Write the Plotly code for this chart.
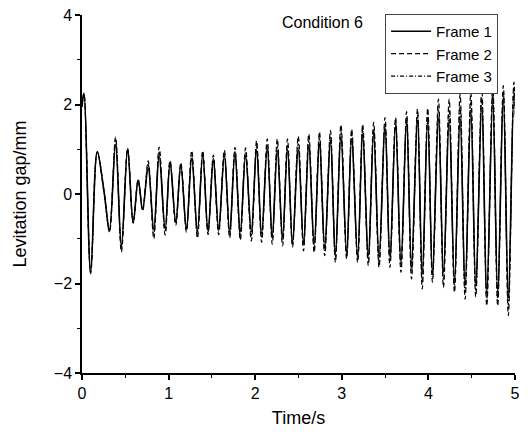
import plotly.graph_objects as go

# Extremum times (s) (peaks and troughs of the oscillation)
time_s = [0.000, 0.023, 0.100, 0.176, 0.255, 0.317, 0.388, 0.455, 0.527, 0.591,
          0.649, 0.700, 0.764, 0.829, 0.891, 0.960, 1.017, 1.083, 1.141, 1.206,
          1.267, 1.333, 1.394, 1.455, 1.517, 1.578, 1.644, 1.705, 1.766, 1.828,
          1.889, 1.955, 2.016, 2.074, 2.139, 2.197, 2.255, 2.316, 2.373, 2.431,
          2.497, 2.558, 2.619, 2.681, 2.742, 2.803, 2.869, 2.926, 2.990, 3.056,
          3.114, 3.183, 3.241, 3.306, 3.368, 3.430, 3.499, 3.556, 3.621, 3.683,
          3.748, 3.805, 3.874, 3.929, 3.992, 4.047, 4.116, 4.174, 4.240, 4.301,
          4.366, 4.424, 4.490, 4.547, 4.616, 4.674, 4.743, 4.800, 4.865, 4.923,
          4.988, 5.050]

frame1 = [1.95, 2.25, -1.75, 0.94, 0.05, -0.80, 1.10, -1.16, 1.00, -0.63,
          0.31, -0.34, 0.58, -0.78, 0.84, -0.77, 0.69, -0.62, 0.63, -0.77,
          0.80, -0.82, 0.87, -0.82, 0.74, -0.77, 0.85, -0.84, 0.89, -0.84,
          0.86, -0.84, 0.98, -0.89, 1.02, -0.93, 0.97, -0.95, 1.00, -1.08,
          1.00, -1.08, 1.08, -1.12, 1.12, -1.19, 1.19, -1.34, 1.28, -1.30,
          1.23, -1.38, 1.34, -1.38, 1.34, -1.41, 1.49, -1.41, 1.53, -1.53,
          1.60, -1.56, 1.64, -1.75, 1.64, -1.75, 1.68, -1.75, 1.68, -1.94,
          1.71, -2.05, 1.86, -2.03, 1.97, -2.20, 2.08, -2.20, 2.16, -2.27,
          2.25, -2.30]

frame2 = [1.95, 2.25, -1.78, 0.94, 0.05, -0.85, 1.27, -1.30, 1.02, -0.65,
          0.32, -0.38, 0.74, -1.00, 1.05, -0.92, 0.75, -0.70, 0.70, -0.85,
          0.97, -0.99, 0.97, -0.91, 0.87, -0.91, 0.98, -0.98, 1.04, -1.03,
          1.03, -1.05, 1.19, -1.08, 1.23, -1.12, 1.23, -1.16, 1.23, -1.19,
          1.29, -1.27, 1.34, -1.31, 1.39, -1.38, 1.42, -1.53, 1.55, -1.45,
          1.45, -1.53, 1.56, -1.60, 1.60, -1.64, 1.71, -1.64, 1.71, -1.75,
          1.84, -1.90, 1.90, -2.12, 1.92, -1.97, 2.12, -2.09, 2.12, -2.20,
          2.23, -2.35, 2.27, -2.30, 2.35, -2.50, 2.42, -2.50, 2.42, -2.72,
          2.50, -2.80]

frame3 = [1.95, 2.25, -1.76, 0.95, 0.02, -0.84, 1.22, -1.22, 1.00, -0.64,
          0.32, -0.36, 0.66, -0.88, 0.95, -0.84, 0.72, -0.66, 0.66, -0.80,
          0.86, -0.88, 0.90, -0.86, 0.79, -0.83, 0.90, -0.90, 0.95, -0.92,
          0.94, -0.93, 1.06, -0.96, 1.10, -1.00, 1.06, -1.03, 1.08, -1.12,
          1.12, -1.15, 1.19, -1.20, 1.24, -1.27, 1.29, -1.42, 1.40, -1.36,
          1.33, -1.45, 1.44, -1.48, 1.46, -1.52, 1.59, -1.52, 1.61, -1.63,
          1.71, -1.71, 1.76, -1.92, 1.77, -1.85, 1.88, -1.90, 1.88, -2.06,
          1.96, -2.19, 2.05, -2.15, 2.15, -2.34, 2.24, -2.34, 2.28, -2.48,
          2.38, -2.50]

series_names = ["Frame 1", "Frame 2", "Frame 3"]
x_ticks = [0, 1, 2, 3, 4, 5]
y_ticks = [-4, -2, 0, 2, 4]

FONT = "Liberation Sans, Arial, sans-serif"

fig = go.Figure()
styles = [dict(width=1.6, dash="solid"),
          dict(width=1.2, dash="5px,3px"),
          dict(width=1.2, dash="4px,2px,1px,2px")]
for name, vals, st in zip(series_names, [frame1, frame2, frame3], styles):
    fig.add_trace(go.Scatter(
        x=time_s, y=vals, mode="lines", name=name,
        line=dict(color="black", width=st["width"], dash=st["dash"],
                  shape="spline", smoothing=1.0),
    ))

fig.add_annotation(x=2.78, y=3.84, xref="x", yref="y", text="Condition 6",
                   showarrow=False, font=dict(size=16, color="black", family=FONT))

axis_common = dict(
    showline=True, linecolor="black", linewidth=1.5,
    ticks="outside", ticklen=5, tickwidth=1.5, tickcolor="black",
    showgrid=False, zeroline=False, mirror=False, automargin=False,
    tickfont=dict(size=16, color="black", family=FONT),
    minor=dict(ticks="outside", ticklen=3, tickwidth=1.2, tickcolor="black"),
)

fig.update_layout(
    width=531, height=434,
    margin=dict(l=82, r=16, t=15, b=61, autoexpand=False),
    paper_bgcolor="white", plot_bgcolor="white",
    font=dict(family=FONT, color="black"),
    xaxis=dict(range=[0, 5], tickvals=x_ticks, **axis_common,
               title=dict(text="Time/s", font=dict(size=18, family=FONT), standoff=10)),
    yaxis=dict(range=[-4, 4], tickvals=y_ticks, **axis_common,
               title=dict(text="Levitation gap/mm", font=dict(size=18, family=FONT), standoff=22)),
    legend=dict(x=0.700, y=1.003, xanchor="left", yanchor="top",
                bordercolor="#444", borderwidth=1, bgcolor="white",
                font=dict(size=15, family=FONT, color="black"),
                tracegroupgap=0, itemwidth=40),
    showlegend=True,
)
fig.update_xaxes(minor=dict(tickvals=[0.5, 1.5, 2.5, 3.5, 4.5]))
fig.update_yaxes(minor=dict(tickvals=[-3, -1, 1, 3]))

fig.write_html("out.html")
